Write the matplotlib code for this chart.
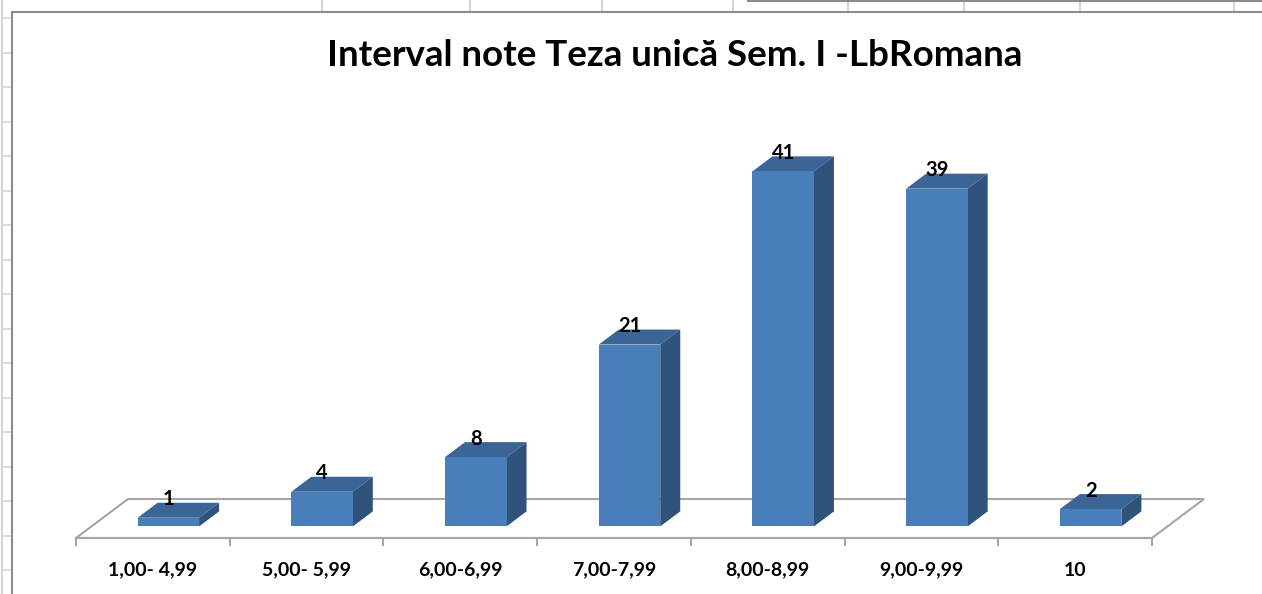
import matplotlib

matplotlib.use("Agg")
import matplotlib.pyplot as plt
from matplotlib.lines import Line2D
from matplotlib.patches import Polygon
from matplotlib.transforms import offset_copy

W, H = 1262, 594
TITLE = "Interval note Teza unică Sem. I -LbRomana"
categories = ["1,00- 4,99", "5,00- 5,99", "6,00-6,99", "7,00-7,99",
              "8,00-8,99", "9,00-9,99", "10"]
counts = [1, 4, 8, 21, 41, 39, 2]

FRONT, TOP, SIDE = "#4a7ebb", "#3a6596", "#30537b"
FLOOR_EDGE = "#a6a6a6"
BORDER = "#8c8c8c"
SHEET = "#d6d6d6"

# 3-D look (pixels): bar front plane offset into the floor, bar depth, floor depth
FX, FY = 15.5, 11.6
DX, DY = 20.0, 15.0
FLX, FLY = 52.0, 39.0
HALF = 0.2            # half bar width, category units
YMAX = 45

plt.rcParams.update({"font.family": ["Lato", "DejaVu Sans"], "font.weight": "bold"})

fig = plt.figure(figsize=(W / 100, H / 100), dpi=100)

# spreadsheet grid behind the chart object
for y in [18 + 34.5 * k for k in range(17)]:
    fig.add_artist(Line2D([2 / W, 11 / W], [1 - y / H, 1 - y / H], color=SHEET, lw=1.2))
fig.add_artist(Line2D([2 / W, 2 / W], [0, 1], color=SHEET, lw=1.5))
for x in [322, 470, 602, 733, 848, 964, 1080, 1234]:
    fig.add_artist(Line2D([x / W, x / W], [1 - 11 / H, 1], color=SHEET, lw=1.5))
fig.add_artist(Line2D([748 / W, 1], [1 - 1 / H, 1 - 1 / H], color=BORDER, lw=1.5))
# chart object border (left + top, the rest is off-screen)
fig.add_artist(Line2D([11.5 / W, 11.5 / W], [0, 1 - 11.5 / H], color=BORDER, lw=1.5))
fig.add_artist(Line2D([11.5 / W, 1], [1 - 11.5 / H, 1 - 11.5 / H], color=BORDER, lw=1.5))

fig.text(675 / W, 1 - 56 / H, TITLE, fontsize=26.5, fontweight="bold",
         ha="center", va="center")

ax = fig.add_axes([76 / W, (H - 538) / H, 1076 / W, YMAX * 8.66 / H])
ax.set_xlim(-0.5, len(categories) - 0.5)
ax.set_ylim(0, YMAX)
ax.patch.set_visible(False)
for s in ["left", "right", "top"]:
    ax.spines[s].set_visible(False)
ax.spines["bottom"].set_color(FLOOR_EDGE)
ax.spines["bottom"].set_linewidth(1.5)
ax.set_yticks([])


def shift(x, y, dx, dy):
    px, py = ax.transData.transform((x, y))
    return ax.transData.inverted().transform((px + dx, py + dy))


# floor
n = len(categories)
floor = [shift(-0.5, 0, 0, 0), shift(n - 0.5, 0, 0, 0),
         shift(n - 0.5, 0, FLX, FLY), shift(-0.5, 0, FLX, FLY)]
ax.add_patch(Polygon(floor, closed=True, fc="white", ec=FLOOR_EDGE, lw=1.5,
                     clip_on=False, zorder=1))

# bars: front faces through ax.bar, top and side faces as polygons
front_tr = offset_copy(ax.transData, fig=fig, x=FX, y=FY, units="dots")
ax.bar(range(n), counts, width=2 * HALF, color=FRONT, transform=front_tr,
       zorder=3, clip_on=False)
for i, v in enumerate(counts):
    top = [shift(i - HALF, v, FX, FY), shift(i + HALF, v, FX, FY),
           shift(i + HALF, v, FX + DX, FY + DY), shift(i - HALF, v, FX + DX, FY + DY)]
    side = [shift(i + HALF, 0, FX, FY), shift(i + HALF, v, FX, FY),
            shift(i + HALF, v, FX + DX, FY + DY), shift(i + HALF, 0, FX + DX, FY + DY)]
    ax.add_patch(Polygon(top, closed=True, fc=TOP, ec="none", zorder=2, clip_on=False))
    ax.add_patch(Polygon(side, closed=True, fc=SIDE, ec="none", zorder=2, clip_on=False))
    ax.annotate(str(v), xy=(i, v), xytext=(FX * 0.72, (FY + 12.5) * 0.72),
                textcoords="offset points", ha="center", va="baseline",
                fontsize=14.5, fontweight="bold", zorder=5)

# category boundaries as ticks, labels at centres
ax.set_xticks([k - 0.5 for k in range(n + 1)])
ax.set_xticklabels([])
ax.set_xticks(range(n), minor=True)
ax.set_xticklabels(categories, minor=True, fontsize=14, fontweight="bold")
ax.tick_params(axis="x", which="major", length=5.8, width=1.5, color=FLOOR_EDGE,
               direction="out")
ax.tick_params(axis="x", which="minor", length=0, pad=17)

fig.savefig("out.png", dpi=100)
